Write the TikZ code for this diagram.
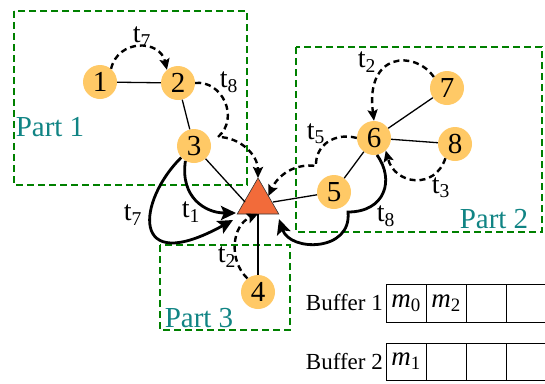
\documentclass[tikz,border=0pt]{standalone}
\usepackage{fontspec}
\setmainfont{Liberation Serif}
\newfontfamily\tnr{Liberation Serif}
\usetikzlibrary{arrows.meta,shapes.geometric}
\definecolor{nodefill}{RGB}{255,201,102}
\definecolor{trifill}{RGB}{242,107,58}
\definecolor{boxgreen}{RGB}{0,128,0}
\definecolor{partteal}{RGB}{16,132,132}
\newcommand{\tsub}[1]{t\textsubscript{#1}}
\newcommand{\msub}[1]{\textit{m}\textsubscript{#1}}
\begin{document}
\begin{tikzpicture}[x=1pt,y=-1pt,
 vtx/.style={circle,fill=nodefill,minimum size=34pt,inner sep=0pt,font=\tnr\fontsize{29}{29}\selectfont},
 link/.style={line width=1.3pt},
 dasharr/.style={line width=2.4pt,dash pattern=on 6pt off 4pt,-{Stealth[length=11pt,width=10pt,inset=2pt]}},
 thickarr/.style={line width=2.8pt,-{Stealth[length=15pt,width=14pt,inset=3pt]}},
 partbox/.style={draw=boxgreen,line width=2.4pt,dash pattern=on 7pt off 4pt},
 partlbl/.style={text=partteal,font=\tnr\fontsize{29}{29}\selectfont,inner sep=0pt},
 tlbl/.style={font=\tnr\fontsize{28}{28}\selectfont,inner sep=0pt},
 buflbl/.style={font=\tnr\fontsize{23}{23}\selectfont,inner sep=0pt},
 celltxt/.style={font=\tnr\fontsize{27}{27}\selectfont,inner sep=0pt},
 grid/.style={line width=1pt},
]
\useasboundingbox (0,0) rectangle (545,383);

% part boxes
\draw[partbox] (14,11) rectangle (247,185);
\draw[partbox] (296,47) rectangle (542,232);
\draw[partbox] (160,245) rectangle (290,330);

% vertices
\node[vtx] (n1) at (100,82) {1};
\node[vtx] (n2) at (178,83) {2};
\node[vtx] (n3) at (194,146) {3};
\node[vtx] (n4) at (258,292) {4};
\node[vtx] (n5) at (334,192) {5};
\node[vtx] (n6) at (374,138) {6};
\node[vtx] (n7) at (447,88) {7};
\node[vtx] (n8) at (455,144) {8};
\node[regular polygon,regular polygon sides=3,minimum size=48pt,inner sep=0pt,outer sep=0pt,
      fill=trifill,draw=black!80,line width=0.6pt] (tri) at (258,202) {};
\coordinate (triL) at (245,202);
\coordinate (triR) at (273,202);
\coordinate (tipA) at (233,220);
\coordinate (tipB) at (236,213);
\coordinate (tipC) at (279,219);

% thin links
\draw[link] (n1) -- (n2);
\draw[link] (n2) -- (n3);
\draw[link] (n3) -- (triL);
\draw[link] (n5) -- (triR);
\draw[link] (n6) -- (n5);
\draw[link] (n6) -- (n7);
\draw[link] (n6) -- (n8);
\draw[link] (n4) -- (tri.side 2);

% dashed arrows
\draw[dasharr] (n1.50) .. controls (118,39) and (160,39) .. (n2.130);
\draw[dasharr] (n2.east) .. controls (222,80) and (240,118) .. (218,137)
               .. controls (240,137) and (258,155) .. (tri.corner 1);
\draw[dasharr] (n7.140) .. controls (415,50) and (365,52) .. (n6.north);
\draw[dasharr] (n8.236) .. controls (435,190) and (395,185) .. (n6.313);
\draw[dasharr] (n6.west) .. controls (335,132) and (315,145) .. (316,166)
               .. controls (295,163) and (278,175) .. (tri.side 3);
\draw[dasharr] (n4.128) .. controls (228,260) and (232,225) .. (tri.side 2);

% thick arrows
\draw[thickarr] (n3.222) .. controls (138,200) and (128,278) .. (tipA);
\draw[thickarr] (n3.240) .. controls (180,197) and (205,213) .. (tipB);
\draw[thickarr] (n6.280) .. controls (395,180) and (385,212) .. (348,212)
               .. controls (352,252) and (290,252) .. (tipC);

% edge labels
\node[tlbl] (l1) at (142,37) {\tsub{7}};
\node[tlbl] (l2) at (229,82) {\tsub{8}};
\node[tlbl] (l3) at (367,62) {\tsub{2}};
\node[tlbl] (l4) at (316,134) {\tsub{5}};
\node[tlbl] (l5) at (441,188) {\tsub{3}};
\node[tlbl] (l6) at (133,215) {\tsub{7}};
\node[tlbl] (l7) at (191,212) {\tsub{1}};
\node[tlbl] (l8) at (386,216) {\tsub{8}};
\node[tlbl] (l9) at (227,257) {\tsub{2}};

% part labels
\node[partlbl] (p1) at (50,127) {Part 1};
\node[partlbl] (p2) at (494,219) {Part 2};
\node[partlbl] (p3) at (199,318) {Part 3};

% buffers
\draw[grid] (386,284) -- (545,284) (386,322) -- (545,322)
            (386,343) -- (545,343) (386,380) -- (545,380);
\foreach \x in {386,426,466,506}{
  \draw[grid] (\x,284) -- (\x,322) (\x,343) -- (\x,380);
}
\node[buflbl,anchor=east] (b1) at (383,303) {Buffer 1};
\node[buflbl,anchor=east] (b2) at (383,362) {Buffer 2};
\node[celltxt] (c1) at (406,303) {\msub{0}};
\node[celltxt] (c2) at (446,303) {\msub{2}};
\node[celltxt] (c3) at (406,361) {\msub{1}};
\end{tikzpicture}
\end{document}
